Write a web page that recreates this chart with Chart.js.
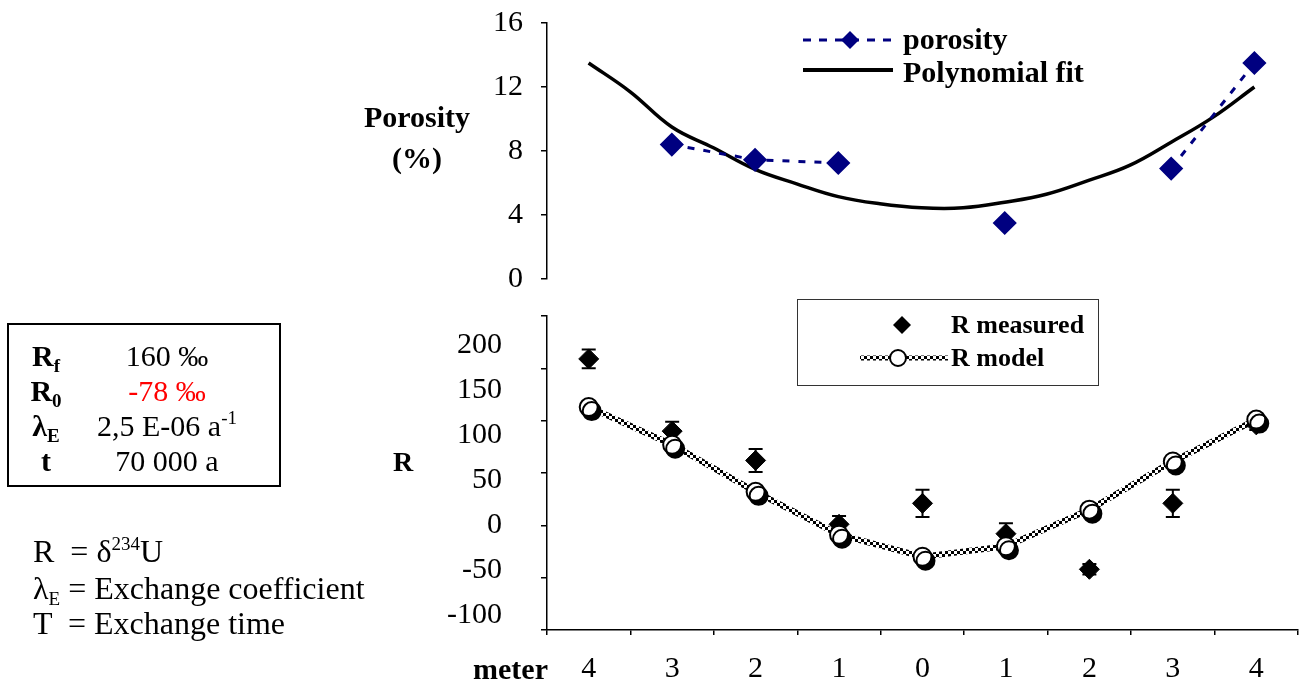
<!DOCTYPE html>
<html>
<head>
<meta charset="utf-8">
<script src="https://cdn.jsdelivr.net/npm/chart.js@4/dist/chart.umd.min.js"></script>
<style>
  body { margin:0; background:#fff; width:1309px; height:682px; position:relative; overflow:hidden;
         font-family:'Liberation Serif', 'Times New Roman', serif; color:#000; }
  canvas { position:absolute; left:0; }
  #topChart { top:0; }
  #bottomChart { top:290px; }
  .txt { position:absolute; white-space:nowrap; line-height:1; }
  .b { font-weight:bold; }
  #params { position:absolute; left:7px; top:323px; width:270px; height:160px; border:2px solid #000; }
  .row { position:absolute; left:0; height:35px; line-height:35px; font-size:30px; width:270px; }
  .row .k { position:absolute; left:0; width:74px; text-align:center; font-weight:bold; }
  .row .v { position:absolute; left:78px; width:160px; text-align:center; }
  sub { font-size:19px; vertical-align:-6px; line-height:0; }
  sup { font-size:19px; vertical-align:12px; line-height:0; }
  .legendNote { position:absolute; left:33px; font-size:32px; line-height:1; white-space:nowrap; }
</style>
</head>
<body>
<canvas id="topChart" width="1309" height="300"></canvas>
<canvas id="bottomChart" width="1309" height="392"></canvas>

<div class="txt b" style="left:337px; top:102px; width:160px; text-align:center; font-size:30px;">Porosity</div>
<div class="txt b" style="left:337px; top:143px; width:160px; text-align:center; font-size:30px;">(%)</div>
<div class="txt b" style="left:383px; top:448px; width:40px; text-align:center; font-size:28px;">R</div>
<div class="txt b" style="left:418px; top:654px; width:130px; text-align:right; font-size:30px;">meter</div>

<div id="params">
  <div class="row" style="top:13px;"><span class="k">R<sub>f</sub></span><span class="v">160 ‰</span></div>
  <div class="row" style="top:48px;"><span class="k">R<sub>0</sub></span><span class="v" style="color:#ff0000;">-78 ‰</span></div>
  <div class="row" style="top:83px;"><span class="k">λ<sub>E</sub></span><span class="v">2,5 E-06 a<sup>-1</sup></span></div>
  <div class="row" style="top:118px;"><span class="k">t</span><span class="v">70 000 a</span></div>
</div>

<div class="legendNote" style="top:535px;">R &nbsp;= δ<sup>234</sup>U</div>
<div class="legendNote" style="top:572px;">λ<sub>E</sub> = Exchange coefficient</div>
<div class="legendNote" style="top:607px;">T &nbsp;= Exchange time</div>

<script>
// positions along the profile (distance in meters from the centre)
const categories = ['4', '3', '2', '1', '0', '1', '2', '3', '4'];

// porosity (%) - gaps where no sample was taken
const porosity = [null, 8.4, 7.45, 7.25, null, 3.5, null, 6.9, 13.5];

// polynomial trend of porosity, read along the profile
const fitX = [0, 0.5, 1, 1.5, 2, 2.5, 3, 3.5, 4, 4.5, 5, 5.5, 6, 6.5, 7, 7.5, 8];
const fitY = [13.5, 11.7, 9.5, 8.2, 6.85, 5.95, 5.15, 4.7, 4.45, 4.45, 4.8, 5.3, 6.15, 7.1, 8.55, 10.1, 12.0];

// R = d234U, measured with error, and modelled
const rMeasured = [159, 90, 62, 1, 21, -8, -42, 21, 96];
const rError = [9, 9, 11, 8, 13, 10, 5, 13, 5];
const rModel = [113, 77, 32, -9, -30, -20, 15, 61, 101];

const porosityTicks = [0, 2, 4, 6, 8, 10, 12, 14, 16];
const rTicks = [-100, -50, 0, 50, 100, 150, 200];

const serif = 'Liberation Serif';

// black/white checker used for the model line
function checkerPattern(ctx) {
  const c = document.createElement('canvas');
  c.width = 6; c.height = 6;
  const g = c.getContext('2d');
  g.fillStyle = '#fff'; g.fillRect(0, 0, 6, 6);
  g.fillStyle = '#000';
  g.fillRect(0, 0, 3, 3); g.fillRect(3, 3, 3, 3);
  return ctx.createPattern(c, 'repeat');
}

function diamond(ctx, x, y, r, color) {
  ctx.beginPath();
  ctx.moveTo(x, y - r); ctx.lineTo(x + r, y); ctx.lineTo(x, y + r); ctx.lineTo(x - r, y);
  ctx.closePath();
  ctx.fillStyle = color;
  ctx.fill();
}

// keep the plot area where the layout padding puts it
function noLabelPadding(s) {
  s.paddingTop = 0; s.paddingBottom = 0; s.paddingLeft = 0; s.paddingRight = 0;
}

// ---------- porosity chart ----------
const topLegend = {
  id: 'topLegend',
  afterDraw(chart) {
    const ctx = chart.ctx;
    const ds = chart.data.datasets;
    ctx.save();
    ctx.strokeStyle = '#000080'; ctx.lineWidth = 3; ctx.setLineDash([8, 8]);
    ctx.beginPath(); ctx.moveTo(803, 40); ctx.lineTo(893, 40); ctx.stroke();
    ctx.setLineDash([]);
    diamond(ctx, 850, 40, 9, '#000080');
    ctx.strokeStyle = '#000'; ctx.lineWidth = 4;
    ctx.beginPath(); ctx.moveTo(803, 70); ctx.lineTo(893, 70); ctx.stroke();
    ctx.fillStyle = '#000';
    ctx.font = 'bold 30px "' + serif + '"';
    ctx.textBaseline = 'middle';
    ctx.fillText(ds[0].label, 903, 41);
    ctx.fillText(ds[1].label, 903, 74);
    ctx.restore();
  }
};

new Chart(document.getElementById('topChart'), {
  type: 'line',
  data: {
    datasets: [
      {
        label: 'porosity',
        data: porosity.map((v, i) => ({ x: i, y: v })),
        borderColor: '#000080',
        borderWidth: 3,
        borderDash: [7, 9],
        pointStyle: 'rectRot',
        pointRadius: 10,
        pointBackgroundColor: '#000080',
        pointBorderColor: '#000080',
        spanGaps: false,
        order: 0
      },
      {
        label: 'Polynomial fit',
        data: fitX.map((x, i) => ({ x: x, y: fitY[i] })),
        borderColor: '#000',
        borderWidth: 3.5,
        pointRadius: 0,
        tension: 0.4,
        order: 1
      }
    ]
  },
  options: {
    responsive: false,
    animation: false,
    events: [],
    layout: { padding: { top: 23, bottom: 21, left: 0, right: 1 } },
    plugins: { legend: { display: false }, tooltip: { enabled: false } },
    scales: {
      x: { type: 'linear', min: -0.5, max: 8.5, display: false },
      y: {
        min: 0, max: 16,
        afterBuildTicks: s => { s.ticks = porosityTicks.map(v => ({ value: v })); },
        afterFit: s => { s.width = 547; noLabelPadding(s); },
        ticks: {
          callback: v => (v % 4 === 0 ? v : ''),
          font: { family: serif, size: 30 },
          color: '#000',
          padding: 18
        },
        grid: { drawOnChartArea: false, tickLength: 6, color: '#000', lineWidth: 1.5 },
        border: { color: '#000', width: 1.5 }
      }
    }
  },
  plugins: [topLegend]
});

// ---------- R chart ----------
const bottomCanvas = document.getElementById('bottomChart');
const checker = checkerPattern(bottomCanvas.getContext('2d'));

const markerEffects = {
  id: 'markerEffects',
  beforeDatasetDraw(chart, args) {
    // drop shadow under the model markers
    if (args.index === 2) {
      const ctx = chart.ctx;
      ctx.save();
      ctx.shadowColor = '#000';
      ctx.shadowOffsetX = 3;
      ctx.shadowOffsetY = 4;
      ctx.shadowBlur = 0;
    }
  },
  afterDatasetDraw(chart, args) {
    const ctx = chart.ctx;
    if (args.index === 2) { ctx.restore(); return; }
    if (args.index !== 1) return;
    // error bars on measured values
    const x = chart.scales.x, y = chart.scales.y;
    ctx.save();
    ctx.strokeStyle = '#000';
    ctx.lineWidth = 2;
    rMeasured.forEach((v, i) => {
      const px = x.getPixelForValue(i);
      const top = y.getPixelForValue(v + rError[i]);
      const bot = y.getPixelForValue(v - rError[i]);
      ctx.beginPath();
      ctx.moveTo(px, top); ctx.lineTo(px, bot);
      ctx.moveTo(px - 7, top); ctx.lineTo(px + 7, top);
      ctx.moveTo(px - 7, bot); ctx.lineTo(px + 7, bot);
      ctx.stroke();
    });
    ctx.restore();
  }
};

const bottomLegend = {
  id: 'bottomLegend',
  afterDraw(chart) {
    const ctx = chart.ctx;
    const ds = chart.data.datasets;
    ctx.save();
    ctx.strokeStyle = '#333'; ctx.lineWidth = 1;
    ctx.strokeRect(797.5, 9.5, 301, 86);
    diamond(ctx, 902, 35, 9, '#000');
    ctx.strokeStyle = checker; ctx.lineWidth = 5;
    ctx.beginPath(); ctx.moveTo(860, 68); ctx.lineTo(948, 68); ctx.stroke();
    ctx.beginPath(); ctx.arc(898, 68, 8, 0, Math.PI * 2);
    ctx.fillStyle = '#fff'; ctx.fill();
    ctx.strokeStyle = '#000'; ctx.lineWidth = 2; ctx.stroke();
    ctx.fillStyle = '#000';
    ctx.font = 'bold 26px "' + serif + '"';
    ctx.textBaseline = 'middle';
    ctx.fillText(ds[1].label, 951, 36);
    ctx.fillText(ds[0].label, 951, 69);
    ctx.restore();
  }
};

new Chart(bottomCanvas, {
  type: 'line',
  data: {
    labels: categories,
    datasets: [
      {
        label: 'R model',
        data: rModel,
        borderColor: checker,
        borderWidth: 6,
        pointRadius: 0,
        order: 3
      },
      {
        label: 'R measured',
        data: rMeasured,
        showLine: false,
        pointStyle: 'rectRot',
        pointRadius: 10,
        pointBackgroundColor: '#000',
        pointBorderColor: '#000',
        order: 2
      },
      {
        label: 'R model markers',
        data: rModel,
        showLine: false,
        pointRadius: 9,
        pointBackgroundColor: '#fff',
        pointBorderColor: '#000',
        pointBorderWidth: 2,
        order: 1
      }
    ]
  },
  options: {
    responsive: false,
    animation: false,
    events: [],
    layout: { padding: { top: 26, bottom: 0, left: 0, right: 1 } },
    plugins: { legend: { display: false }, tooltip: { enabled: false } },
    scales: {
      x: {
        type: 'category',
        offset: true,
        afterFit: s => { s.height = 52; noLabelPadding(s); },
        ticks: { font: { family: serif, size: 30 }, color: '#000', padding: 16, maxRotation: 0, autoSkip: false },
        grid: { offset: true, drawOnChartArea: false, tickLength: 5, color: '#000', lineWidth: 1.5 },
        border: { color: '#000', width: 1.5 }
      },
      y: {
        position: 'left',
        weight: 0,
        min: -100, max: 200,
        afterBuildTicks: s => { s.ticks = rTicks.map(v => ({ value: v })); },
        afterFit: s => { s.width = 8; noLabelPadding(s); },
        ticks: { display: false },
        grid: { drawOnChartArea: false, tickLength: 6, color: '#000', lineWidth: 1.5 },
        border: { color: '#000', width: 1.5 }
      },
      // tick labels of the R axis, set in their own spacing
      yl: {
        position: 'left',
        weight: 1,
        min: -116.7, max: 232.2,
        afterBuildTicks: s => { s.ticks = rTicks.map(v => ({ value: v })); },
        afterFit: s => { s.width = 539; noLabelPadding(s); },
        ticks: { font: { family: serif, size: 30 }, color: '#000', padding: 29 },
        grid: { display: false },
        border: { display: false }
      }
    }
  },
  plugins: [markerEffects, bottomLegend]
});
</script>
</body>
</html>
